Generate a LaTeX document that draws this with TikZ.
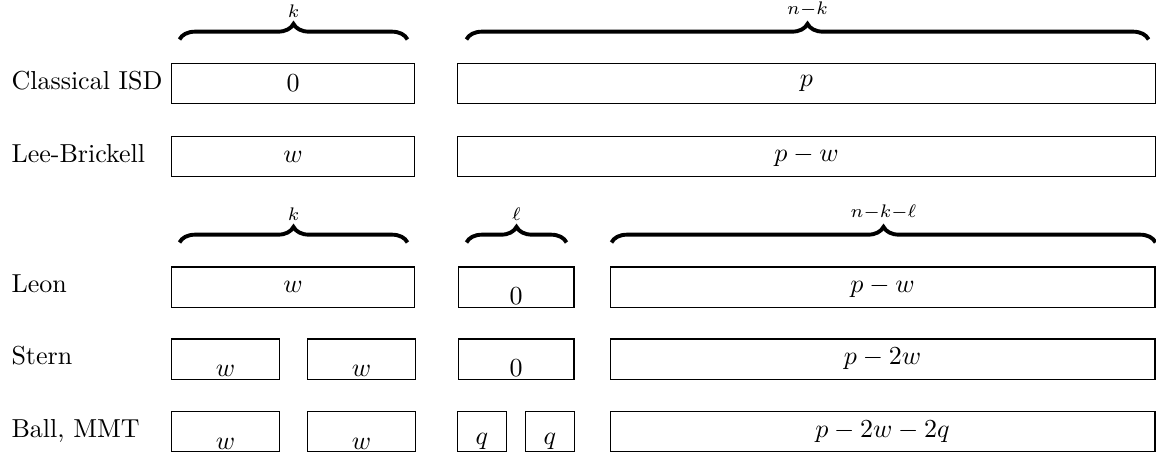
\documentclass[tikz,border=0pt]{standalone}
\usetikzlibrary{decorations.pathreplacing}

\tikzset{
  cell/.style={draw, inner sep=0pt, minimum height=15.4pt},
  lowtext/.style={anchor=south, inner sep=0.8pt},
  rowname/.style={anchor=base west, inner sep=0pt},
  widthbrace/.style={decorate, decoration={brace, amplitude=6pt}, line width=1.5pt},
}

\begin{document}
\begin{tikzpicture}[x=0.3846pt, y=-0.3846pt]
  \useasboundingbox (0,0) rectangle (1156,452);

  % classical ISD and Lee-Brickell
  \node[rowname] (isdName) at (11,89) {Classical ISD};
  \node[cell, minimum width=93.8pt] (isdK) at (293,83.5) {$0$};
  \node[cell, minimum width=268.1pt] (isdR) at (806.5,83.5) {$p$};

  \node[rowname] (lbName) at (11,162) {Lee-Brickell};
  \node[cell, minimum width=93.8pt] (lbK) at (293,156.5) {$w$};
  \node[cell, minimum width=268.1pt] (lbR) at (806.5,156.5) {$p-w$};

  \draw[widthbrace] ([shift={(9,-23.5)}]isdK.north west) -- ([shift={(-8,-23.5)}]isdK.north east)
    node[midway, above=4.5pt] (kTop) {$\scriptstyle k$};
  \draw[widthbrace] ([shift={(9,-23.5)}]isdR.north west) -- ([shift={(-7,-23.5)}]isdR.north east)
    node[midway, above=4.5pt] (nkTop) {$\scriptstyle n-k$};

  % Leon
  \node[rowname] (leonName) at (11,292.5) {Leon};
  \node[cell, minimum width=93.8pt] (leonK) at (293,287) {$w$};
  \node[cell, minimum width=44.6pt] (leonL) at (516,287) {};
  \node[lowtext] (leonLt) at (leonL.south) {$0$};
  \node[cell, minimum width=209.6pt] (leonR) at (882.5,287) {$p-w$};

  \draw[widthbrace] ([shift={(9,-24)}]leonK.north west) -- ([shift={(-8,-24)}]leonK.north east)
    node[midway, above=4.5pt] (kLow) {$\scriptstyle k$};
  \draw[widthbrace] ([shift={(9,-24)}]leonL.north west) -- ([shift={(-8,-24)}]leonL.north east)
    node[midway, above=4.5pt] (lLow) {$\scriptstyle \ell$};
  \draw[widthbrace] ([shift={(2,-24)}]leonR.north west) -- ([shift={(0,-24)}]leonR.north east)
    node[midway, above=4.5pt] (nklLow) {$\scriptstyle n-k-\ell$};

  % Stern
  \node[rowname] (sternName) at (11,364.5) {Stern};
  \node[cell, minimum width=41.5pt] (sternA) at (225.5,359) {};
  \node[lowtext] (sternAt) at (sternA.south) {$w$};
  \node[cell, minimum width=41.5pt] (sternB) at (361.5,359) {};
  \node[lowtext] (sternBt) at (sternB.south) {$w$};
  \node[cell, minimum width=44.6pt] (sternL) at (516,359) {};
  \node[lowtext] (sternLt) at (sternL.south) {$0$};
  \node[cell, minimum width=209.6pt] (sternR) at (882.5,359) {$p-2w$};

  % Ball, MMT
  \node[rowname] (ballName) at (11,437) {Ball, MMT};
  \node[cell, minimum width=41.5pt] (ballA) at (225.5,431.5) {};
  \node[lowtext] (ballAt) at (ballA.south) {$w$};
  \node[cell, minimum width=41.5pt] (ballB) at (361.5,431.5) {};
  \node[lowtext] (ballBt) at (ballB.south) {$w$};
  \node[cell, minimum width=18.5pt] (ballQa) at (482,431.5) {};
  \node[lowtext] (ballQat) at (ballQa.south) {$q$};
  \node[cell, minimum width=18.5pt] (ballQb) at (550,431.5) {};
  \node[lowtext] (ballQbt) at (ballQb.south) {$q$};
  \node[cell, minimum width=209.6pt] (ballR) at (882.5,431.5) {$p-2w-2q$};
\end{tikzpicture}
\end{document}
